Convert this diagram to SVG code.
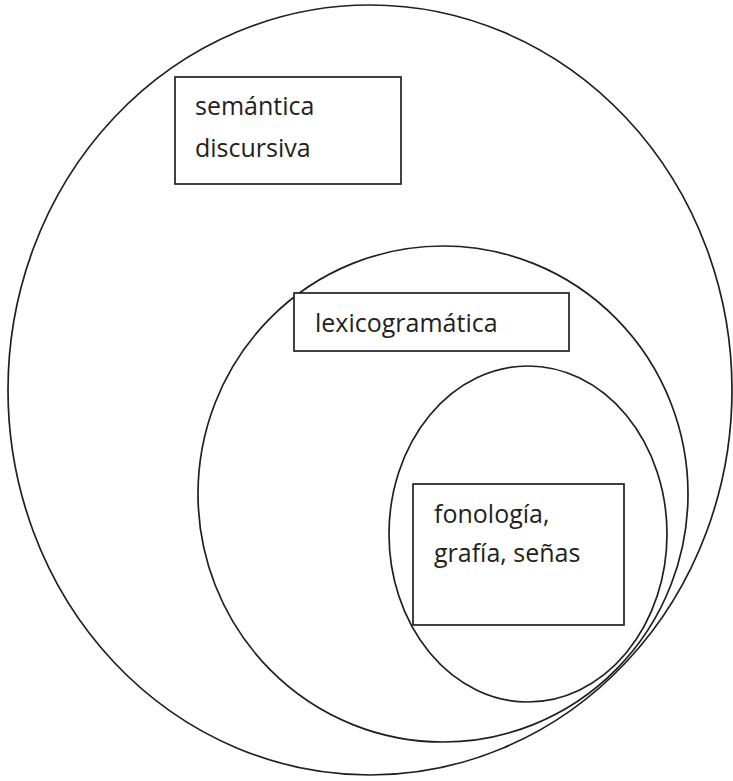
<svg xmlns="http://www.w3.org/2000/svg" width="733" height="781" viewBox="0 0 733 781">
<style>
.ring{fill:none;stroke:#231f20;stroke-width:1.7}
.box{fill:#fff;stroke:#231f20;stroke-width:1.7}
.lbl{font-family:"Open Sans","Noto Sans","Liberation Sans",sans-serif;font-size:25px;fill:#231f20}
</style>
<rect width="733" height="781" fill="#fff"/>
<g id="outer"><ellipse class="ring" cx="370" cy="390" rx="362" ry="385"/></g>
<g id="middle"><ellipse class="ring" cx="443" cy="494" rx="245" ry="248"/></g>
<g id="inner"><ellipse class="ring" cx="528" cy="534" rx="139" ry="168"/></g>
<g id="semantica">
<rect class="box" x="175" y="77" width="226" height="107"/>
<text class="lbl" x="195" y="115">semántica</text>
<text class="lbl" x="195" y="157">discursiva</text>
</g>
<g id="lexicogramatica">
<rect class="box" x="294" y="293" width="275" height="58"/>
<text class="lbl" x="315" y="332">lexicogramática</text>
</g>
<g id="fonologia">
<rect class="box" x="413" y="484" width="211" height="141"/>
<text class="lbl" x="434" y="523">fonología,</text>
<text class="lbl" x="434" y="562">grafía, señas</text>
</g>
<g id="connectors"></g>
</svg>
